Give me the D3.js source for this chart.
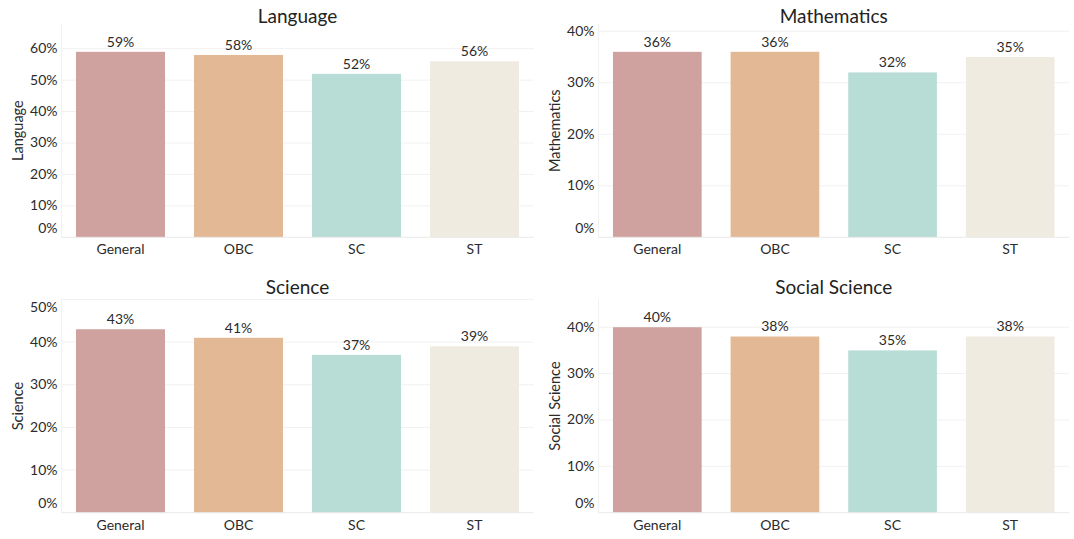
<!DOCTYPE html>
<html>
<head>
<meta charset="utf-8">
<script src="https://cdn.jsdelivr.net/npm/d3@7"></script>
<style>
  html, body { margin: 0; padding: 0; background: #fff; }
  svg { display: block; font-family: Lato, "Open Sans", sans-serif; }
</style>
</head>
<body>
<svg id="chart" width="1074" height="539"></svg>
<script>
// Categories and per-subject shares (%)
const categories = ["General", "OBC", "SC", "ST"];
const subjects = ["Language", "Mathematics", "Science", "Social Science"];
const language = [59, 58, 52, 56];
const mathematics = [36, 36, 32, 35];
const science = [43, 41, 37, 39];
const socialScience = [40, 38, 35, 38];
const languageTicks = [0, 10, 20, 30, 40, 50, 60];
const mathematicsTicks = [0, 10, 20, 30, 40];
const scienceTicks = [0, 10, 20, 30, 40, 50];
const socialScienceTicks = [0, 10, 20, 30, 40];
const barColors = ["#cfa19f", "#e3b895", "#b8ddd6", "#efebe0"];

const series = [language, mathematics, science, socialScience];
const tickSets = [languageTicks, mathematicsTicks, scienceTicks, socialScienceTicks];

// Panel frames: two columns, two rows (top, bottom, title baseline)
const cols = [[61.5, 533.5], [598.5, 1069]];
const rows = [[24, 237.3, 23], [299.4, 512.7, 294]];

const svg = d3.select("#chart");
const textColor = "#2b2b2b";

subjects.forEach((subject, i) => {
  const [x0, x1] = cols[i % 2];
  const [top, bottom, titleY] = rows[Math.floor(i / 2)];
  const values = series[i];
  const ticks = tickSets[i];

  const x = d3.scaleBand()
    .domain(categories)
    .range([x0, x1])
    .paddingInner(0.246)
    .paddingOuter(0.123);

  const yMax = Math.max(d3.max(values) * 1.15, d3.max(ticks));
  const y = d3.scaleLinear().domain([0, yMax]).range([bottom, top]);

  const g = svg.append("g");

  // horizontal gridlines
  g.append("g").selectAll("line")
    .data(ticks.filter(t => t > 0))
    .join("line")
    .attr("x1", x0).attr("x2", x1)
    .attr("y1", d => y(d)).attr("y2", d => y(d))
    .attr("stroke", "#f1f1f1").attr("stroke-width", 1);

  // left frame line
  g.append("line")
    .attr("x1", x0).attr("x2", x0)
    .attr("y1", top).attr("y2", bottom)
    .attr("stroke", "#f1f1f1");

  // bars
  g.append("g").selectAll("rect")
    .data(values)
    .join("rect")
    .attr("x", (d, j) => x(categories[j]))
    .attr("width", x.bandwidth())
    .attr("y", d => y(d))
    .attr("height", d => y(0) - y(d))
    .attr("fill", (d, j) => barColors[j]);

  // baseline
  g.append("line")
    .attr("x1", x0).attr("x2", x1)
    .attr("y1", y(0)).attr("y2", y(0))
    .attr("stroke", "#e9e9e9");

  // value labels
  g.append("g").selectAll("text")
    .data(values)
    .join("text")
    .attr("x", (d, j) => x(categories[j]) + x.bandwidth() / 2)
    .attr("y", d => y(d) - 5)
    .attr("text-anchor", "middle")
    .attr("font-size", 14)
    .attr("fill", textColor)
    .text(d => d + "%");

  // y axis labels, kept inside the plot frame
  const yAxis = d3.axisLeft(y).tickValues(ticks).tickSize(0).tickPadding(0)
    .tickFormat(d => d + "%");
  const ya = g.append("g").attr("transform", `translate(${x0 - 4},0)`).call(yAxis);
  ya.select(".domain").remove();
  ya.selectAll(".tick").attr("transform", d => {
    const ty = Math.min(Math.max(y(d), top + 8), bottom - 9);
    return `translate(0,${ty})`;
  });
  ya.selectAll("text")
    .attr("font-size", 14)
    .attr("font-family", "Lato, sans-serif")
    .attr("fill", textColor);

  // x axis labels
  const xAxis = d3.axisBottom(x).tickSize(0).tickPadding(0);
  const xa = g.append("g").attr("transform", `translate(0,${bottom + 7})`).call(xAxis);
  xa.select(".domain").remove();
  xa.selectAll("text")
    .attr("dy", "0.71em")
    .attr("font-size", 14)
    .attr("font-family", "Lato, sans-serif")
    .attr("fill", textColor);

  // panel title
  g.append("text")
    .attr("x", (x0 + x1) / 2)
    .attr("y", titleY)
    .attr("text-anchor", "middle")
    .attr("font-size", 19)
    .attr("fill", "#222")
    .text(subject);

  // y axis title
  g.append("text")
    .attr("transform", `translate(${x0 - 39},${(top + bottom) / 2}) rotate(-90)`)
    .attr("text-anchor", "middle")
    .attr("font-size", 14.5)
    .attr("fill", textColor)
    .text(subject);
});
</script>
</body>
</html>
